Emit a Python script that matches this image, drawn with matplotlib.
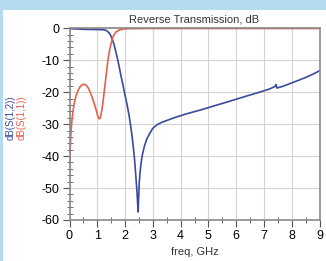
import numpy as np
import matplotlib.pyplot as plt
from matplotlib.patches import Rectangle

plt.rcParams['axes.unicode_minus'] = False

# S(1,2) - blue trace
f12 = [0, 0.5, 1.0, 1.2, 1.3, 1.36, 1.42, 1.47, 1.53, 1.6, 1.67, 1.74, 1.8, 1.86, 1.93, 2.0,
       2.07, 2.14, 2.21, 2.27, 2.32, 2.36, 2.39, 2.42, 2.445, 2.47,
       2.49, 2.51, 2.54, 2.58, 2.63, 2.7, 2.78, 2.88, 3.0, 3.15, 3.3, 3.55, 3.8, 4.2, 4.7,
       5.2, 5.7, 6.3, 6.8, 7.2, 7.4, 7.43, 7.47, 7.7, 8.0, 8.5, 8.8, 9.0]
s12 = [-0.1, -0.3, -0.4, -0.45, -0.6, -0.9, -1.4, -2.0, -3.2, -5.0, -7.4, -10, -12.5, -15.2, -18,
       -21, -23.8, -27, -31, -35, -39, -43, -46.5, -50, -53.5, -57.5,
       -53, -48.5, -45, -42, -39.3, -36.8, -34.7, -33, -31.3, -30.2, -29.5, -28.7, -27.9, -26.8, -25.6,
       -24.3, -23, -21.4, -20.1, -19, -18.2, -17.6, -18.7, -18.1, -17.1, -15.4, -14.2, -13.3]

# S(1,1) - red trace
f11 = [0, 0.02, 0.05, 0.08, 0.12, 0.17, 0.23, 0.3, 0.38, 0.45, 0.52, 0.6, 0.67, 0.74, 0.82,
       0.9, 0.97, 1.02, 1.06, 1.1, 1.14, 1.19, 1.25, 1.32, 1.39, 1.45, 1.53, 1.6, 1.68, 1.8,
       1.95, 2.2, 3.0, 9.0]
s11 = [-44, -39, -33, -29.5, -26.3, -23.5, -21.3, -19.6, -18.3, -17.7, -17.5, -17.8, -18.6, -19.9,
       -21.7, -23.8, -25.9, -27.5, -28.3, -28.2, -26.8, -24.2, -19.8, -14.6, -9.6, -6.5, -3.6,
       -2.0, -1.1, -0.5, -0.2, -0.1, -0.05, -0.05]

blue = '#3a4a9e'
red = '#e8604c'

fig = plt.figure(figsize=(3.26, 2.61), dpi=100)
fig.patch.set_facecolor('#b3dbf2')
fig.patches.append(Rectangle((3 / 326, 0), 1, 1 - 10 / 261, transform=fig.transFigure,
                             facecolor='white', edgecolor='none', zorder=-5))

ax = fig.add_axes([69.5 / 326, 1 - 220 / 261, 250 / 326, 191.7 / 261])
ax.set_facecolor('white')
ax.plot(f12, s12, color=blue, lw=1.2)
ax.plot(f11, s11, color=red, lw=1.2)

ax.set_xlim(0, 9)
ax.set_ylim(-60, 0)
ax.set_xticks(range(0, 10))
ax.set_yticks(range(-60, 1, 10))
ax.set_yticks(range(-60, 1, 2), minor=True)
ax.set_xticks(np.arange(0, 9.01, 0.5), minor=True)
ax.grid(True, color='#d4d4d4', lw=0.8)
ax.tick_params(axis='both', which='major', direction='out', length=5, width=0.8,
               color='#555555', labelsize=9, pad=2)
ax.tick_params(axis='both', which='minor', direction='inout', length=4, width=0.6, color='#555555')
for s in ax.spines.values():
    s.set_color('#8a8a8a')
    s.set_linewidth(1.2)
for lab in ax.get_xticklabels() + ax.get_yticklabels():
    lab.set_family(['Liberation Sans', 'DejaVu Sans'])

ax.set_title('Reverse Transmission, dB', fontsize=8, family='Liberation Sans', pad=4, color='#333333')
ax.set_xlabel('freq, GHz', fontsize=8, family='Liberation Sans', labelpad=4, color='#333333')
fig.text(11 / 326, 1 - 118 / 261, 'dB(S(1,2))', rotation=90, color=blue, fontsize=7,
         family='Liberation Sans', ha='center', va='center')
fig.text(21.5 / 326, 1 - 118 / 261, 'dB(S(1,1))', rotation=90, color=red, fontsize=7,
         family='Liberation Sans', ha='center', va='center')

fig.savefig('out.png', dpi=100, facecolor=fig.get_facecolor())
